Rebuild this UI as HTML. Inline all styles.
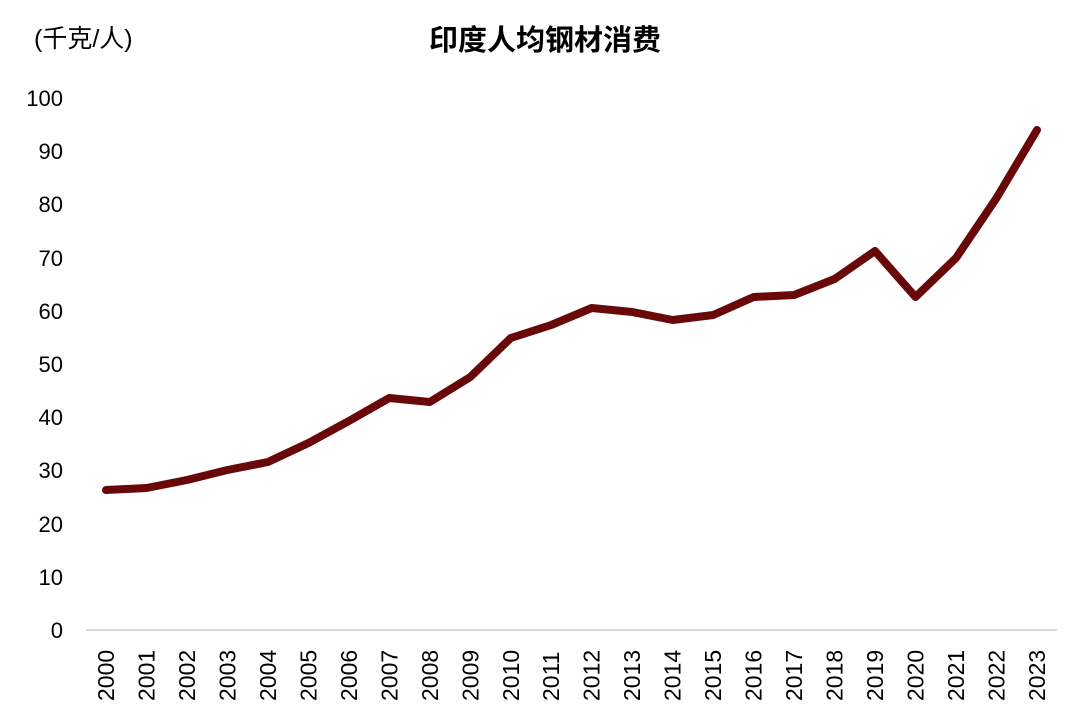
<!DOCTYPE html>
<html><head><meta charset="utf-8"><style>
html,body{margin:0;padding:0;background:#fff;}
</style></head><body>
<svg width="1080" height="726" viewBox="0 0 1080 726" xmlns="http://www.w3.org/2000/svg" style="display:block">
<g font-family="Liberation Sans, Noto Sans CJK SC, sans-serif" fill="#000">
<text x="34" y="47" font-size="25">(千克/人)</text>
<text x="545" y="50" font-size="29" font-weight="bold" text-anchor="middle">印度人均钢材消费</text>
<g font-size="22" text-anchor="end">
<text x="63" y="638">0</text>
<text x="63" y="585">10</text>
<text x="63" y="532">20</text>
<text x="63" y="478">30</text>
<text x="63" y="425">40</text>
<text x="63" y="372">50</text>
<text x="63" y="319">60</text>
<text x="63" y="266">70</text>
<text x="63" y="212">80</text>
<text x="63" y="159">90</text>
<text x="63" y="106">100</text>
</g>
<line x1="86" y1="630" x2="1057" y2="630" stroke="#d9d9d9" stroke-width="2"/>
<g font-size="23">
<text transform="translate(114,701) rotate(-90)">2000</text>
<text transform="translate(154.5,701) rotate(-90)">2001</text>
<text transform="translate(195,701) rotate(-90)">2002</text>
<text transform="translate(235.4,701) rotate(-90)">2003</text>
<text transform="translate(275.9,701) rotate(-90)">2004</text>
<text transform="translate(316.4,701) rotate(-90)">2005</text>
<text transform="translate(356.9,701) rotate(-90)">2006</text>
<text transform="translate(397.3,701) rotate(-90)">2007</text>
<text transform="translate(437.8,701) rotate(-90)">2008</text>
<text transform="translate(478.3,701) rotate(-90)">2009</text>
<text transform="translate(518.8,701) rotate(-90)">2010</text>
<text transform="translate(559.2,701) rotate(-90)">2011</text>
<text transform="translate(599.7,701) rotate(-90)">2012</text>
<text transform="translate(640.2,701) rotate(-90)">2013</text>
<text transform="translate(680.7,701) rotate(-90)">2014</text>
<text transform="translate(721.2,701) rotate(-90)">2015</text>
<text transform="translate(761.6,701) rotate(-90)">2016</text>
<text transform="translate(802.1,701) rotate(-90)">2017</text>
<text transform="translate(842.6,701) rotate(-90)">2018</text>
<text transform="translate(883,701) rotate(-90)">2019</text>
<text transform="translate(923.5,701) rotate(-90)">2020</text>
<text transform="translate(964,701) rotate(-90)">2021</text>
<text transform="translate(1004.5,701) rotate(-90)">2022</text>
<text transform="translate(1045,701) rotate(-90)">2023</text>
</g>
<polyline fill="none" stroke="#680808" stroke-width="8" stroke-linejoin="round" stroke-linecap="round"
points="106,490 146.5,488 187,480 227.4,470 267.9,462 308.4,443 348.9,421 389.3,398 429.8,402 470.3,377 510.8,338 551.2,325 591.7,308 632.2,312 672.7,320 713.2,315 753.6,297 794.1,295 834.6,279 875,251 915.5,297 956,258 996.5,198 1037,130"/>
</g>
</svg>
</body></html>
